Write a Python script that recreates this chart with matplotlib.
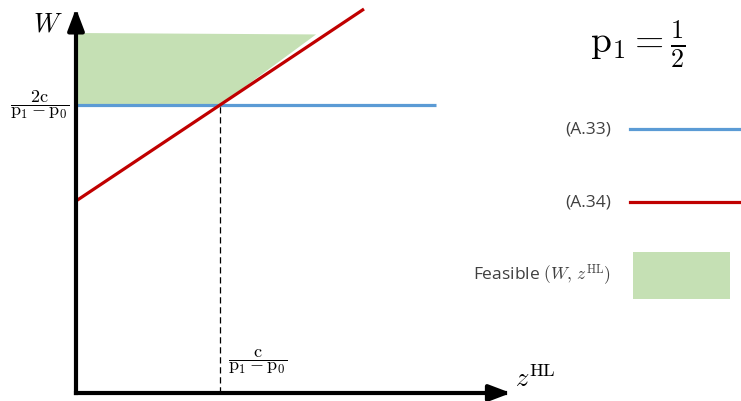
import matplotlib
matplotlib.use("Agg")
import matplotlib.pyplot as plt
from matplotlib.lines import Line2D
from matplotlib.patches import Patch, Rectangle
from matplotlib.legend_handler import HandlerBase

plt.rcParams['mathtext.fontset'] = 'cm'
plt.rcParams['font.family'] = ['Open Sans', 'DejaVu Sans']

# constraint (A.33): W = 2c/(p1-p0), horizontal
z_a33 = [0.0, 2.5]
w_a33 = [2.0, 2.0]
# constraint (A.34): W rises with z^HL
z_a34 = [0.0, 2.0]
w_a34 = [4 / 3, 8 / 3]
# feasible region (W, z^HL)
feas_z = [0.0, 0.0, 1.667, 1.0]
feas_w = [2.0, 2.5, 2.49, 2.0]
# kink point c/(p1-p0), 2c/(p1-p0)
z_star, w_star = 1.0, 2.0
# axis arrow tips
z_max, w_max = 3.02, 2.67

BLUE = '#5B9BD5'
RED = '#C00000'
GREEN = '#C5E0B4'

fig = plt.figure(figsize=(7.41, 4.01), dpi=100)
ax = fig.add_axes([0, 0, 1, 1])
ax.set_xlim(-76 / 144, (741 - 76) / 144)
ax.set_ylim(-(401 - 393) / 144, 393 / 144)
ax.axis('off')

ax.fill(feas_z, feas_w, color=GREEN, lw=0, zorder=1)
ax.plot(z_a33, w_a33, color=BLUE, lw=2.3, zorder=3, solid_capstyle='butt')
ax.plot(z_a34, w_a34, color=RED, lw=2.3, zorder=3, solid_capstyle='butt')
ax.plot([z_star, z_star], [0, w_star], color='k', lw=0.9, ls=(0, (5, 3)), zorder=2)

# axes with arrow heads
arrow = dict(arrowstyle='-|>,head_length=1.0,head_width=0.38', lw=3, color='k',
             shrinkA=0, shrinkB=0, mutation_scale=13, capstyle='projecting')
ax.annotate('', xy=(0, w_max), xytext=(0, 0), arrowprops=arrow, zorder=4)
ax.annotate('', xy=(z_max, 0), xytext=(0, 0), arrowprops=arrow, zorder=4)

# labels
ax.text(-0.194, 2.556, r'$W$', fontsize=19, ha='center', va='center')
ax.text(3.19, 0.09, r'$z^{\mathrm{HL}}$', fontsize=19, ha='center', va='center')
ax.text(-0.25, w_star, r'$\dfrac{\mathrm{2c}}{\mathrm{p_1 - p_0}}$', fontsize=13,
        ha='center', va='center')
ax.text(1.264, 0.215, r'$\dfrac{\mathrm{c}}{\mathrm{p_1 - p_0}}$', fontsize=13,
        ha='center', va='center')
ax.text(3.903, 2.42, r'$\mathrm{p_1} = \frac{1}{2}$', fontsize=27, ha='center', va='center')


class HandlerBox(HandlerBase):
    def create_artists(self, legend, orig_handle, xdescent, ydescent, width, height,
                       fontsize, trans):
        p = Rectangle((-xdescent + 2, -ydescent), width * 0.874, height,
                      facecolor=GREEN, edgecolor='none', transform=trans)
        return [p]


class HandlerMidLine(HandlerBase):
    # line through the middle of the handle box
    def create_artists(self, legend, orig_handle, xdescent, ydescent, width, height,
                       fontsize, trans):
        y = height / 2 - ydescent
        ln = Line2D([-xdescent, -xdescent + width], [y, y], color=orig_handle.get_color(),
                    lw=orig_handle.get_linewidth(), transform=trans)
        return [ln]


handles = [Line2D([], [], color=BLUE, lw=2.3),
           Line2D([], [], color=RED, lw=2.3),
           Patch(facecolor=GREEN)]
labels = ['(A.33)', '(A.34)', r'Feasible $(W,\, z^{\mathrm{HL}})$']
leg = ax.legend(handles, labels, loc='upper right', bbox_to_anchor=(1.0, 1 - 105.5 / 401),
                frameon=False, markerfirst=False, fontsize=12.5, borderpad=0,
                borderaxespad=0, handlelength=6.4, handleheight=3.79, labelspacing=1.5,
                handletextpad=1.1,
                handler_map={Patch: HandlerBox(), Line2D: HandlerMidLine()})
for t in leg.get_texts():
    t.set_color('#404040')

fig.savefig('out.png', dpi=100)
